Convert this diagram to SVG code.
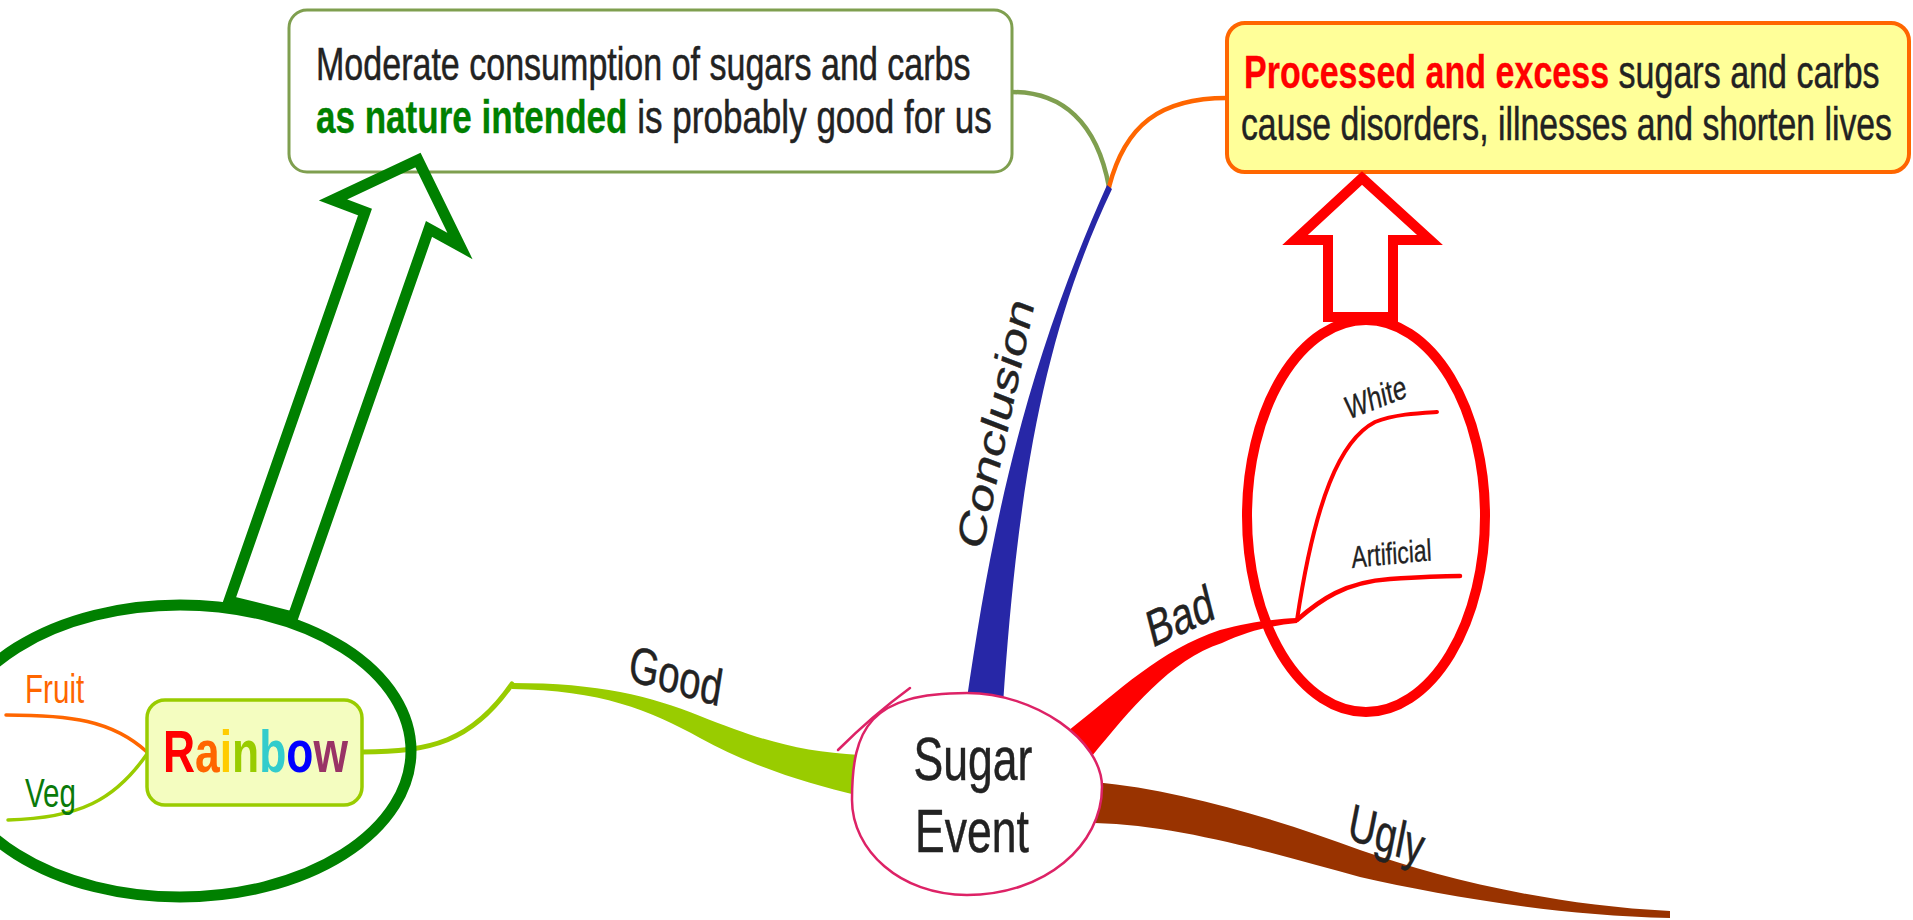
<svg xmlns="http://www.w3.org/2000/svg" width="1913" height="920" viewBox="0 0 1913 920">
<style>
.t{font-family:"Liberation Sans",Arial,sans-serif;fill:#222222;stroke:#222222;stroke-width:0.5;}
.b{font-weight:bold;}
.thin{fill:none;stroke-linecap:round;stroke-linejoin:round;}
.hl{fill:none;stroke-linejoin:miter;stroke-miterlimit:10;}
</style>
<rect x="0" y="0" width="1913" height="920" fill="#ffffff"/>

<g id="connectors">
  <!-- conclusion sub-branches -->
  <path class="thin" d="M1012,92 C1062,92 1097,122 1109,187" stroke="#7f9f4f" stroke-width="4.5"/>
  <path class="thin" d="M1109,187 C1125,125 1160,98 1227,98" stroke="#ff6600" stroke-width="4.5"/>
  <!-- Conclusion (blue) -->
  <path d="M966,705 C990,540 1020,380 1107,185 L1112,189 C1045,330 1018,480 1003,705 Z" fill="#2727a7"/>
  <!-- Good (green) -->
  <path class="thin" d="M362,752 C430,752 472,742 512,684" stroke="#99cc00" stroke-width="5"/>
  <path d="M512,683 C600,683 650,696 700,716 C760,740 800,752 860,755 L860,796 C800,782 750,765 700,738 C650,710 600,690 512,689 Z" fill="#99cc00"/>
  <!-- Bad (red) -->
  <path d="M1068,731 C1120,690 1160,650 1220,630 C1250,622 1275,619 1297,618 L1297,623 C1275,625 1250,630 1222,643 C1170,660 1130,710 1092,756 Z" fill="#ff0000"/>
  <path class="thin" d="M1297,620 C1315,500 1340,440 1375,422 C1395,414 1420,413 1437,412" stroke="#ff0000" stroke-width="4"/>
  <path class="thin" d="M1297,620 C1320,600 1345,582 1390,579 C1420,577 1440,576 1460,576" stroke="#ff0000" stroke-width="4.5"/>
  <!-- Ugly (brown) -->
  <path d="M1095,782 C1180,790 1280,820 1360,850 C1440,878 1550,905 1670,911 L1670,918 C1550,915 1440,895 1360,877 C1280,855 1180,825 1095,823 Z" fill="#993300"/>
  <!-- Rainbow sub-branches -->
  <path class="thin" d="M6,715 C70,715 112,720 147,752" stroke="#ff6600" stroke-width="3.5"/>
  <path class="thin" d="M8,820 C80,818 115,800 147,754" stroke="#99cc00" stroke-width="3.5"/>
  <!-- branch labels -->
  <text class="t" font-size="52" transform="translate(982,552) scale(0.74,1) rotate(-74)">Conclusion</text>
  <text class="t" font-size="52" transform="translate(627,680) scale(0.74,1) rotate(12)">Good</text>
  <text class="t" font-size="52" transform="translate(1152,648) scale(0.74,1) rotate(-19)">Bad</text>
  <text class="t" font-size="52" transform="translate(1346,838) scale(0.74,1) rotate(15)">Ugly</text>
</g>

<g id="node-moderate">
  <rect x="289" y="10" width="723" height="162" rx="18" ry="18" fill="#ffffff" stroke="#7f9f4f" stroke-width="3"/>
  <text class="t" font-size="46" transform="translate(316,80) scale(0.74,1)">Moderate consumption of sugars and carbs</text>
  <text class="t" font-size="46" transform="translate(316,133) scale(0.762,1)"><tspan class="b" fill="#008000" stroke="#008000" stroke-width="0.3">as nature intended</tspan> is probably good for us</text>
</g>

<g id="node-processed">
  <rect x="1227" y="23" width="682" height="149" rx="18" ry="18" fill="#ffff99" stroke="#ff6600" stroke-width="4"/>
  <text class="t" font-size="46" transform="translate(1244,88) scale(0.74,1)"><tspan class="b" fill="#ff0000" stroke="#ff0000" stroke-width="0.3">Processed and excess</tspan> sugars and carbs</text>
  <text class="t" font-size="46" transform="translate(1241,140) scale(0.734,1)">cause disorders, illnesses and shorten lives</text>
</g>

<g id="node-sugar-event">
  <path d="M967,693 C1035,693 1102,740 1102,787 C1102,845 1045,895 967,895 C900,895 852,850 852,800 C852,728 870,693 967,693 Z" fill="#ffffff" stroke="#dd2266" stroke-width="2.5"/>
  <path class="thin" d="M838,750 Q872,716 910,688" stroke="#dd2266" stroke-width="2.5"/>
  <text class="t" font-size="61" text-anchor="middle" transform="translate(973,780) scale(0.73,1)">Sugar</text>
  <text class="t" font-size="61" text-anchor="middle" transform="translate(972,852) scale(0.73,1)">Event</text>
</g>

<g id="node-rainbow">
  <rect x="147" y="700" width="215" height="105" rx="18" ry="18" fill="#f4fdc0" stroke="#99cc00" stroke-width="3.5"/>
  <text class="t b" font-size="60" style="stroke:none" transform="translate(163,772) scale(0.74,1)"><tspan fill="#ff0000">R</tspan><tspan fill="#ff6600">a</tspan><tspan fill="#ffcc00">i</tspan><tspan fill="#99cc00">n</tspan><tspan fill="#33cccc">b</tspan><tspan fill="#0000ff">o</tspan><tspan fill="#993366">w</tspan></text>
</g>

<g id="node-fruit">
  <text class="t" font-size="40" style="fill:#ff6600;stroke:none" transform="translate(25,703) scale(0.74,1)">Fruit</text>
</g>

<g id="node-veg">
  <text class="t" font-size="40" style="fill:#0a7a0a;stroke:none" transform="translate(25,807) scale(0.74,1)">Veg</text>
</g>

<g id="node-white">
  <text class="t" font-size="33" style="stroke-width:0.3" transform="translate(1348,420) scale(0.74,1) rotate(-16)">White</text>
</g>

<g id="node-artificial">
  <text class="t" font-size="31" style="stroke-width:0.3" transform="translate(1352,568) scale(0.74,1) rotate(-4)">Artificial</text>
</g>

<g id="highlight-good">
  <ellipse cx="180" cy="751" rx="231" ry="146" class="hl" stroke="#008000" stroke-width="11"/>
  <polygon class="hl" points="229,601 365,212 333,200 418,160 460,246 429,229 293,617" stroke="#008000" stroke-width="11"/>
</g>

<g id="highlight-bad">
  <ellipse cx="1366" cy="516" rx="119" ry="196" class="hl" stroke="#ff0000" stroke-width="10"/>
  <polygon class="hl" points="1362,178 1430,240 1393,240 1393,317 1328,317 1328,240 1295,240" stroke="#ff0000" stroke-width="10"/>
</g>
</svg>
